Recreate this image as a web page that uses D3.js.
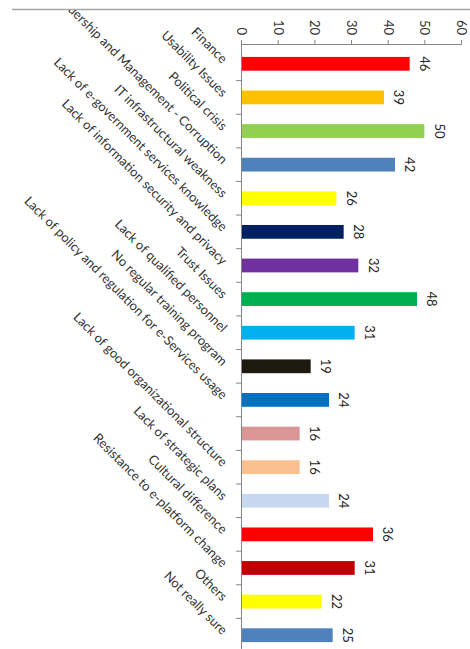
<!DOCTYPE html>
<html>
<head>
<meta charset="utf-8">
<script src="https://cdn.jsdelivr.net/npm/d3@7"></script>
<style>
  body { margin: 0; background: #fff; }
  svg { display: block; font-family: Lato, "Open Sans", sans-serif; }
</style>
</head>
<body>
<svg width="470" height="649"></svg>
<script>
// categories in chart order (slot 12 has no visible label)
var categories = ["Finance", "Usability Issues", "Political crisis",
  "Leadership and Management - Corruption", "IT infrastructural weakness",
  "Lack of e-government services knowledge", "Lack of information security and privacy",
  "Trust Issues", "Lack of qualified personnel", "No regular training program",
  "Lack of policy and regulation for e-Services usage", "",
  "Lack of good organizational structure", "Lack of strategic plans",
  "Cultural difference", "Resistance to e-platform change", "Others", "Not really sure"];
var values = [46, 39, 50, 42, 26, 28, 32, 48, 31, 19, 24, 16, 16, 24, 36, 31, 22, 25];
var colors = ["#FF0000", "#FFC000", "#92D050", "#4F81BD", "#FFFF00", "#002060",
  "#7030A0", "#00B050", "#00B0F0", "#1D1B10", "#0070C0", "#D99694",
  "#FAC090", "#C6D9F1", "#FF0000", "#C00000", "#FFFF00", "#4F81BD"];
var tickValues = [0, 10, 20, 30, 40, 50, 60];

var svg = d3.select("svg");
var axisX = 241;
var axisY = 44;

var x = d3.scaleLinear().domain([0, 60]).range([axisX, 461]);
var y = d3.scaleBand()
  .domain(d3.range(categories.length))
  .range([47, 652])
  .paddingInner(0.59)
  .paddingOuter(0.295);

// top border of the chart area
svg.append("line")
  .attr("x1", 12).attr("x2", 470)
  .attr("y1", 9.5).attr("y2", 9.5)
  .attr("stroke", "#a6a6a6")
  .attr("stroke-width", 1.3);

// labels are clipped by the chart border, as in the original
svg.append("clipPath").attr("id", "area")
  .append("rect").attr("x", 0).attr("y", 10).attr("width", 470).attr("height", 640);

// bars
svg.selectAll("rect.bar")
  .data(values)
  .enter()
  .append("rect")
  .attr("class", "bar")
  .attr("x", x(0))
  .attr("y", function(d, i) { return y(i); })
  .attr("width", function(d) { return x(d) - x(0); })
  .attr("height", y.bandwidth())
  .attr("fill", function(d, i) { return colors[i]; });

// value axis (top)
var xAxis = svg.append("g")
  .attr("transform", "translate(0," + axisY + ")")
  .call(d3.axisTop(x).tickValues(tickValues).tickSize(4).tickSizeOuter(4));
xAxis.select(".domain").attr("stroke", "#868686");
xAxis.selectAll(".tick line").attr("stroke", "#868686");
xAxis.selectAll(".tick text")
  .attr("x", 0).attr("y", 0)
  .attr("transform", "translate(0,-9) rotate(90)")
  .attr("text-anchor", "end")
  .attr("dy", "0.35em")
  .attr("font-size", 13)
  .attr("font-family", "Lato, 'Open Sans', sans-serif")
  .attr("fill", "#333");

// category axis (left)
var step = y.step();
var catAxis = svg.append("g");
catAxis.append("line")
  .attr("x1", axisX + 0.5).attr("x2", axisX + 0.5)
  .attr("y1", axisY).attr("y2", 649)
  .attr("stroke", "#868686");
catAxis.selectAll("line.tick")
  .data(d3.range(1, categories.length))
  .enter()
  .append("line")
  .attr("class", "tick")
  .attr("x1", axisX - 5).attr("x2", axisX)
  .attr("y1", function(i) { return y(i) - y.paddingInner() * step / 2; })
  .attr("y2", function(i) { return y(i) - y.paddingInner() * step / 2; })
  .attr("stroke", "#868686");

// category labels at 45 degrees
svg.append("g").attr("clip-path", "url(#area)")
  .selectAll("text")
  .data(categories)
  .enter()
  .append("text")
  .attr("transform", function(d, i) {
    return "translate(" + (axisX - 16) + "," + (y(i) + y.bandwidth() / 2 - 3) + ") rotate(45)";
  })
  .attr("text-anchor", "end")
  .attr("dy", "0.35em")
  .attr("font-size", 13)
  .attr("fill", "#333")
  .text(function(d) { return d; });

// data labels
svg.selectAll("text.val")
  .data(values)
  .enter()
  .append("text")
  .attr("class", "val")
  .attr("transform", function(d, i) {
    return "translate(" + (x(d) + 15) + "," + (y(i) + y.bandwidth() / 2) + ") rotate(90)";
  })
  .attr("text-anchor", "middle")
  .attr("dy", "0.35em")
  .attr("font-size", 13)
  .attr("fill", "#262626")
  .text(function(d) { return d; });
</script>
</body>
</html>
